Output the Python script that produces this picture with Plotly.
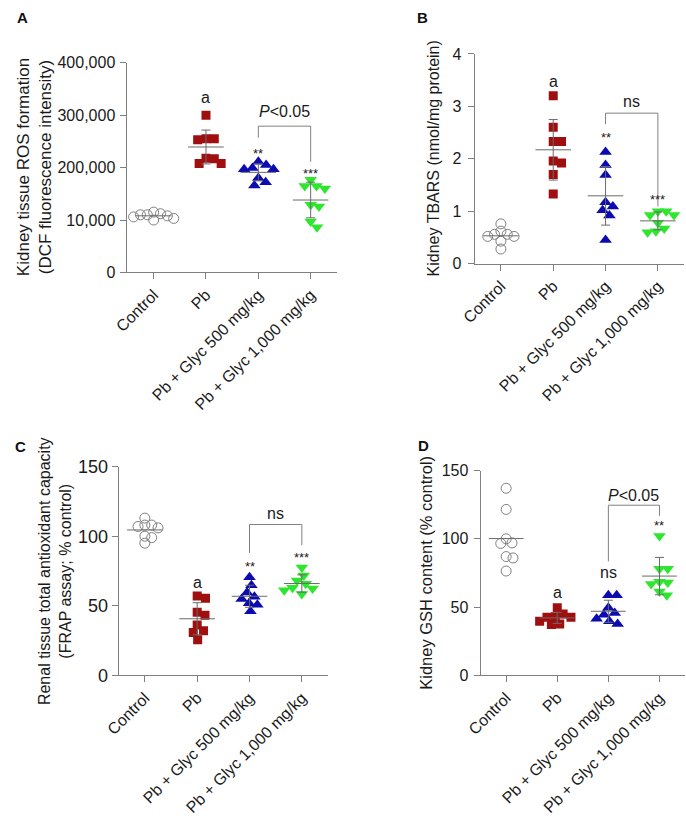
import numpy as np
import plotly.graph_objects as go

W, H = 686, 822
FONT = "Liberation Sans, Arial, sans-serif"
GRAY = "#808080"
LINEC = "#6a6a6a"

categories = ["Control", "Pb", "Pb + Glyc 500 mg/kg", "Pb + Glyc 1,000 mg/kg"]

# Panel A: kidney tissue ROS formation (DCF fluorescence intensity)
ros_control = [110000, 106000, 112000, 115000, 110000, 103000, 100000, 108000]
ros_pb = [300000, 255000, 253000, 255000, 217000, 208000, 208000, 218000]
ros_g500 = [205000, 197000, 197000, 199000, 211000, 180000, 166000, 172000]
ros_g1000 = [165000, 160000, 165000, 177000, 129000, 126000, 97000, 86000]
ros_tickvals = [0, 100000, 200000, 300000, 400000]
ros_ticktext = ["0", "10,000", "200,000", "300,000", "400,000"]

# Panel B: kidney TBARS (nmol/mg protein)
tbars_control = [0.76, 0.56, 0.62, 0.52, 0.52, 0.28, 0.43, 0.56]
tbars_pb = [3.2, 2.6, 2.33, 2.33, 1.92, 1.96, 1.7, 1.33]
tbars_g500 = [2.13, 1.88, 1.69, 1.17, 1.02, 1.09, 0.92, 0.45]
tbars_g1000 = [1.0, 0.93, 0.93, 1.0, 0.67, 0.6, 0.62, 0.78]
tbars_tickvals = [0, 1, 2, 3, 4]

# Panel C: renal total antioxidant capacity (FRAP, % control)
frap_control = [108, 106, 107, 108, 113, 100, 95, 99]
frap_pb = [55.4, 57, 43.2, 45.3, 36.2, 32, 30.8, 25.7]
frap_g500 = [70.5, 59.6, 64.7, 56.5, 51.9, 54.9, 50.7, 46]
frap_g1000 = [77.5, 71.7, 65.9, 68.2, 62.4, 61.2, 63, 58.4]
frap_tickvals = [0, 50, 100, 150]

# Panel D: kidney GSH content (% control)
gsh_control = [137, 121.5, 100, 96.6, 97, 87, 86, 76.4]
gsh_pb = [49.6, 45, 42.5, 42.9, 42.5, 39.6, 37.2, 37.6]
gsh_g500 = [58.6, 58.6, 49.6, 45.6, 44.4, 41.5, 39.6, 37.7]
gsh_g1000 = [102, 78, 78, 68, 67, 68.6, 61.5, 58.6]
gsh_tickvals = [0, 50, 100, 150]

group_styles = [
    dict(symbol="circle-open", color=GRAY, size=10, line=dict(color=GRAY, width=1)),
    dict(symbol="square", color="#a00f0f", size=9, line=dict(width=0)),
    dict(symbol="triangle-up", color="#0b0bb0", size=11, line=dict(width=0)),
    dict(symbol="triangle-down", color="#2ee62e", size=11, line=dict(width=0)),
]
swarm_gap = [7.0, 8.5, 8.5, 8.5]

panels = [
    dict(letter="A", data=[ros_control, ros_pb, ros_g500, ros_g1000],
         xpx=(115, 329), ypx=(54, 269), yrange=(0, 400000),
         tickvals=ros_tickvals, ticktext=ros_ticktext, ytick_size=16, standoff=2,
         title="Kidney tissue ROS formation<br>(DCF fluorescence intensity)", title_x=20,
         title_size=17, letter_xy=(8, 8),
         labels=[(1, 333000, "a", 16), (2, 226000, "**", 13), (3, 189000, "***", 13),
                 (2.5, 307000, "<i>P</i>&lt;0.05", 16)],
         bracket=(279000, 257000, 211000)),
    dict(letter="B", data=[tbars_control, tbars_pb, tbars_g500, tbars_g1000],
         xpx=(470, 684), ypx=(45, 260), yrange=(0, 4),
         tickvals=tbars_tickvals, ticktext=[str(v) for v in tbars_tickvals], ytick_size=16,
         standoff=3,
         title="Kidney TBARS (nmol/mg protein)", title_x=428, title_size=16,
         letter_xy=(417, 8),
         labels=[(1, 3.48, "a", 16), (2, 2.40, "**", 13), (3, 1.23, "***", 13),
                 (2.5, 3.09, "ns", 16)],
         bracket=(2.87, 2.66, 1.09)),
    dict(letter="C", data=[frap_control, frap_pb, frap_g500, frap_g1000],
         xpx=(106, 320), ypx=(468, 682), yrange=(0, 150),
         tickvals=frap_tickvals, ticktext=[str(v) for v in frap_tickvals], ytick_size=18,
         standoff=0,
         title="Renal tissue total antioxidant capacity<br>(FRAP assay; % control)", title_x=41,
         title_size=16, letter_xy=(6, 447),
         labels=[(1, 67, "a", 16), (2, 78, "**", 13), (3, 85, "***", 13),
                 (2.5, 116, "ns", 16)],
         bracket=(108.4, 88, 93.5)),
    dict(letter="D", data=[gsh_control, gsh_pb, gsh_g500, gsh_g1000],
         xpx=(476, 685), ypx=(472, 682), yrange=(0, 150),
         tickvals=gsh_tickvals, ticktext=[str(v) for v in gsh_tickvals], ytick_size=16,
         standoff=2,
         title="Kidney GSH content (% control)", title_x=420, title_size=16.5,
         letter_xy=(418, 446),
         labels=[(1, 60.5, "a", 16), (2, 75.7, "ns", 16), (3, 109.5, "**", 13),
                 (2.5, 131.7, "<i>P</i>&lt;0.05", 16)],
         bracket=(124.6, 83.5, 116.8)),
]


def swarm(vals, py, pc, d):
    vals = np.asarray(vals, dtype=float)
    order = np.argsort(-vals)
    placed = []
    offs = np.zeros(len(vals))
    cands = [0.0] + [s * k * 0.5 for k in range(1, 120) for s in (1, -1)]
    for i in order:
        y = vals[i] * py
        for c in cands:
            if all((c - ox) ** 2 + (y - oy) ** 2 >= d * d for ox, oy in placed):
                break
        placed.append((c, y))
        offs[i] = c
    return offs / pc


fig = go.Figure()
layout = dict(width=W, height=H, margin=dict(l=0, r=0, t=0, b=0),
              paper_bgcolor="white", plot_bgcolor="white", showlegend=False,
              font=dict(family=FONT, size=16, color="#1a1a1a"))
annotations = []

for k, p in enumerate(panels):
    sfx = "" if k == 0 else str(k + 1)
    xa, ya = "x" + sfx, "y" + sfx
    x0, x1 = p["xpx"]
    y0, y1 = p["ypx"]
    py = (y1 - y0) / (p["yrange"][1] - p["yrange"][0])
    pc = (x1 - x0) / 4.0
    axis_common = dict(showline=True, linecolor=GRAY, linewidth=1, ticks="outside",
                       ticklen=6, tickcolor=GRAY, tickwidth=1, showgrid=False,
                       zeroline=False)
    layout["xaxis" + sfx] = dict(axis_common, domain=[x0 / W, x1 / W], range=[-0.5, 3.5],
                                 tickvals=[0, 1, 2, 3], ticktext=categories, tickangle=-45,
                                 tickfont=dict(family=FONT, size=16, color="#1a1a1a"),
                                 anchor=ya, fixedrange=True)
    layout["yaxis" + sfx] = dict(axis_common, domain=[1 - y1 / H, 1 - y0 / H],
                                 range=list(p["yrange"]), tickvals=p["tickvals"],
                                 ticktext=p["ticktext"], anchor=xa, fixedrange=True,
                                 ticklabelstandoff=p["standoff"],
                                 tickfont=dict(family=FONT, size=p["ytick_size"], color="#1a1a1a"))

    for g, vals in enumerate(p["data"]):
        offs = swarm(vals, py, pc, swarm_gap[g])
        fig.add_trace(go.Scatter(x=g + offs, y=vals, mode="markers", xaxis=xa, yaxis=ya,
                                 marker=group_styles[g], hoverinfo="skip"))
    for g, vals in enumerate(p["data"]):
        m = float(np.mean(vals))
        fig.add_trace(go.Scatter(x=[g - 0.34, g + 0.34], y=[m, m], mode="lines",
                                 xaxis=xa, yaxis=ya, line=dict(color=LINEC, width=1),
                                 hoverinfo="skip"))
        if g > 0:
            sd = float(np.std(vals, ddof=1))
            fig.add_trace(go.Scatter(x=[g], y=[m], mode="markers", xaxis=xa, yaxis=ya,
                                     marker=dict(size=0.1, color="rgba(0,0,0,0)"),
                                     error_y=dict(type="data", array=[sd], visible=True,
                                                  color=LINEC, thickness=1, width=4.5),
                                     hoverinfo="skip"))
    hb, lb, rb = p["bracket"]
    fig.add_trace(go.Scatter(x=[2, 2, 3, 3], y=[lb, hb, hb, rb], mode="lines",
                             xaxis=xa, yaxis=ya, line=dict(color=GRAY, width=1),
                             hoverinfo="skip"))
    for (lx, ly, txt, fs) in p["labels"]:
        annotations.append(dict(x=lx, y=ly, xref=xa, yref=ya, text=txt, showarrow=False,
                                font=dict(family=FONT, size=fs, color="#1a1a1a"),
                                xanchor="center", yanchor="middle"))
    annotations.append(dict(x=p["title_x"] / W, y=1 - ((y0 + y1) / 2) / H, xref="paper",
                            yref="paper", text=p["title"], textangle=-90, showarrow=False,
                            font=dict(family=FONT, size=p["title_size"], color="#1a1a1a"),
                            xanchor="center", yanchor="middle"))
    lx, ly = p["letter_xy"]
    annotations.append(dict(x=lx / W, y=1 - ly / H, xref="paper", yref="paper",
                            text="<b>" + p["letter"] + "</b>", showarrow=False,
                            font=dict(family=FONT, size=15, color="#111111"),
                            xanchor="center", yanchor="middle"))

layout["annotations"] = annotations
fig.update_layout(**layout)
fig.write_html("out.html", config={"displayModeBar": False, "staticPlot": True},
               post_script="document.body.style.margin='0px';document.body.style.overflow='hidden';")
